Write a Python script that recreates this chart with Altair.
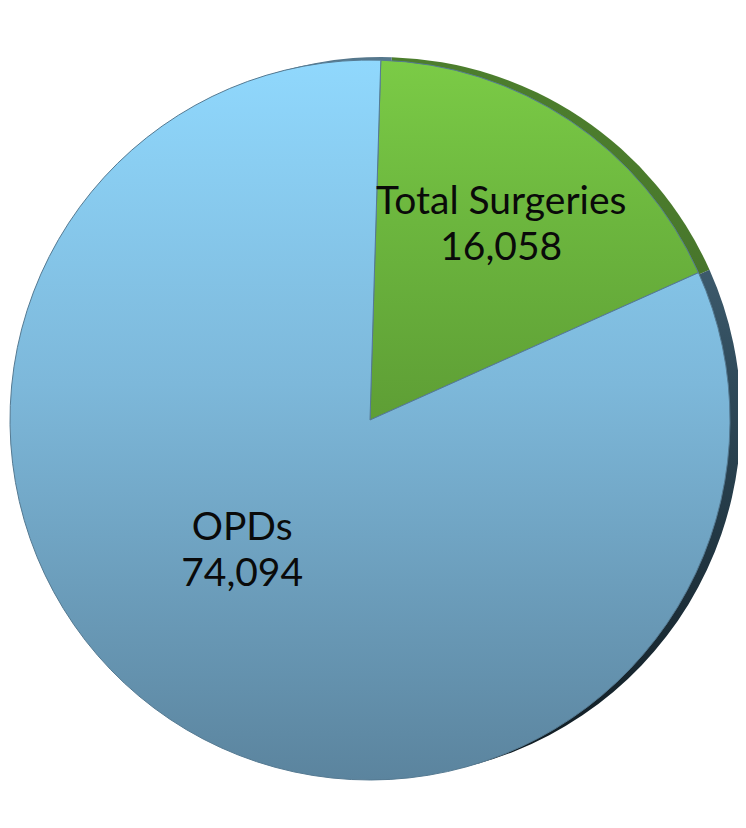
import altair as alt
import pandas as pd

categories = ["Total Surgeries", "OPDs"]
values = [16058, 74094]
order = [0, 1]

df = pd.DataFrame({"category": categories, "value": values, "order": order})

START = 0.03  # radians offset of the first slice
TAU = 6.283185307179586
CX, CY = 360, 412
R = 360


def vgrad(top, mid, bottom):
    return alt.Gradient(
        gradient="linear",
        stops=[
            alt.GradientStop(color=top, offset=0),
            alt.GradientStop(color=mid, offset=0.45),
            alt.GradientStop(color=bottom, offset=1),
        ],
        x1=0.5, y1=0, x2=0.5, y2=1,
    )


blue_fill = vgrad("#90D8FD", "#7DB8DA", "#5B849E")
green_fill = vgrad("#7BCB46", "#6CB63E", "#5E9E35")
blue_rim = vgrad("#56788D", "#2F4A5A", "#0F1A20")
green_rim = vgrad("#4C7E2D", "#4A7A2C", "#40692A")

theta_scale = alt.Scale(range=[START, START + TAU])

base = alt.Chart(df).transform_calculate(
    label="[datum.category, format(datum.value, ',')]"
)

is_surg = alt.datum.category == "Total Surgeries"
is_opd = alt.datum.category == "OPDs"

theta = alt.Theta("value:Q", stack=True, scale=theta_scale)
order_enc = alt.Order("order:Q")

back = base.mark_arc(radius=R).encode(
    theta=theta, order=order_enc,
    color=alt.condition(is_surg, alt.value(green_rim), alt.value(blue_rim)),
    x=alt.value(CX + 11), y=alt.value(CY - 3),
)

front = base.mark_arc(radius=R, stroke="#557A92", strokeWidth=1).encode(
    theta=theta, order=order_enc,
    color=alt.condition(is_surg, alt.value(green_fill), alt.value(blue_fill)),
    x=alt.value(CX), y=alt.value(CY),
)

text_s = base.mark_text(
    radius=236, font="Lato", fontSize=39, color="#0A0A0A", lineHeight=46,
    baseline="middle", dy=-22,
).encode(
    theta=theta, order=order_enc, text="label:N",
    x=alt.value(CX), y=alt.value(CY),
    opacity=alt.condition(is_surg, alt.value(1), alt.value(0)),
)
text_o = base.mark_text(
    radius=176, font="Lato", fontSize=39, color="#0A0A0A", lineHeight=46,
    baseline="middle", dx=-30, dy=-38,
).encode(
    theta=theta, order=order_enc, text="label:N",
    x=alt.value(CX), y=alt.value(CY),
    opacity=alt.condition(is_opd, alt.value(1), alt.value(0)),
)

chart = alt.layer(back, front, text_s, text_o).properties(
    width=730, height=812,
    autosize=alt.AutoSizeParams(type="fit", contains="padding"),
    padding=0,
).configure_view(stroke=None)

chart.save("out.html", embed_options={"renderer": "svg", "actions": False})
